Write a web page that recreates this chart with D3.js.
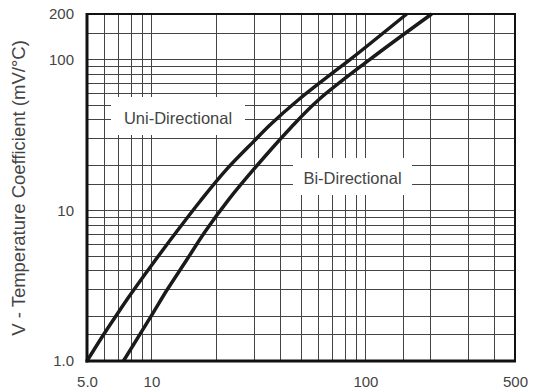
<!DOCTYPE html>
<html><head><meta charset="utf-8">
<script src="https://cdn.jsdelivr.net/npm/d3@7"></script>
<style>
body{margin:0;background:#fff}
svg{display:block}
</style>
</head><body><svg id="c" width="535" height="391"></svg>
<script>
// ---- data ----
const uniV = [5, 6, 7, 8, 10, 13.4, 17, 22.5, 30, 36, 48.5, 70, 85, 156];
const uniC = [1, 1.51, 2.1, 2.77, 4.3, 7.5, 11.6, 18.7, 28.5, 37, 53.8, 81, 100, 200];
const biV  = [7.4, 10, 11.9, 14.5, 17.8, 23, 29.9, 45, 60.3, 105, 204];
const biC  = [1, 2.0, 3, 4.6, 7.2, 11.8, 18.5, 35.5, 53.8, 100, 200];
const xGrid = [6,7,8,9,10,20,30,40,50,60,70,80,90,100,150,200,300,400];
const yGrid = [1.5,2,3,4,5,6,7,8,9,10,15,20,30,40,50,60,70,80,90,100,150];
const xTickVals = [5,10,100,500];
const xTickLabels = ["5.0","10","100","500"];
const yTickVals = [1,10,100,200];
const yTickLabels = ["1.0","10","100","200"];
const seriesNames = ["Uni-Directional","Bi-Directional"];
const yTitle = "V - Temperature Coefficient (mV/°C)";

// ---- chart ----
const FONT = '"Liberation Sans", Arial, Helvetica, sans-serif';
const TXT = "#444";
const svg = d3.select("#c");
const L = 87, R = 515, T = 14, B = 361;
const x = d3.scaleLog().domain([5,500]).range([L,R]);
const y = d3.scaleLog().domain([1,200]).range([B,T]);
const px = v => Math.round(v) + 0.5;

svg.append("rect").attr("width",535).attr("height",391).attr("fill","#fff");

const grid = svg.append("g").attr("stroke","#444").attr("stroke-width",1);
grid.selectAll("line.v").data(xGrid).join("line").attr("class","v")
  .attr("x1",d=>px(x(d))).attr("x2",d=>px(x(d))).attr("y1",T).attr("y2",B);
grid.selectAll("line.h").data(yGrid).join("line").attr("class","h")
  .attr("y1",d=>px(y(d))).attr("y2",d=>px(y(d))).attr("x1",L).attr("x2",R);

// label boxes (white background covering the grid)
const boxes = [
  {name: seriesNames[0], x0:111, x1:245, y0:97, y1:135, tx:178, ty:123.5},
  {name: seriesNames[1], x0:293, x1:412, y0:158, y1:195, tx:352.5, ty:183.5}
];
svg.selectAll("rect.box").data(boxes).join("rect").attr("class","box")
  .attr("x",d=>d.x0).attr("y",d=>d.y0).attr("width",d=>d.x1-d.x0).attr("height",d=>d.y1-d.y0)
  .attr("fill","#fff");
svg.selectAll("text.lab").data(boxes).join("text").attr("class","lab")
  .attr("x",d=>d.tx).attr("y",d=>d.ty).attr("text-anchor","middle")
  .attr("font-family",FONT).attr("font-size",16.5).attr("font-weight",400)
  .attr("fill",TXT).text(d=>d.name);

// curves
const line = d3.line().x(d=>x(d[0])).y(d=>y(d[1])).curve(d3.curveCatmullRom.alpha(0.5));
const series = [d3.zip(uniV,uniC), d3.zip(biV,biC)];
svg.selectAll("path.s").data(series).join("path").attr("class","s")
  .attr("d",line).attr("fill","none").attr("stroke","#1a1a1a")
  .attr("stroke-width",3.5).attr("stroke-linecap","butt");

// frame
svg.append("rect").attr("x",L).attr("y",T).attr("width",R-L).attr("height",B-T)
  .attr("fill","none").attr("stroke","#111").attr("stroke-width",2);
svg.append("line").attr("x1",L).attr("x2",L).attr("y1",T-1).attr("y2",B+1.5)
  .attr("stroke","#111").attr("stroke-width",3);
svg.append("line").attr("x1",L-1.5).attr("x2",R+1).attr("y1",B).attr("y2",B)
  .attr("stroke","#111").attr("stroke-width",3);

// axes
const xa = svg.append("g").attr("transform",`translate(0,${B})`)
  .call(d3.axisBottom(x).tickValues(xTickVals).tickFormat((d,i)=>xTickLabels[i]).tickSize(0).tickPadding(15));
const ya = svg.append("g").attr("transform",`translate(${L},0)`)
  .call(d3.axisLeft(y).tickValues(yTickVals).tickFormat((d,i)=>yTickLabels[i]).tickSize(0).tickPadding(13));
[xa,ya].forEach(g=>{
  g.select(".domain").remove();
  g.selectAll(".tick line").remove();
  g.attr("font-family",FONT).attr("font-size",15).attr("font-weight",400);
  g.selectAll("text").attr("fill",TXT);
});

svg.append("text").attr("transform",`translate(25,188) rotate(-90)`)
  .attr("text-anchor","middle").attr("font-family",FONT).attr("font-size",18.5)
  .attr("font-weight",400).attr("fill",TXT).text(yTitle);
</script>
</body></html>
